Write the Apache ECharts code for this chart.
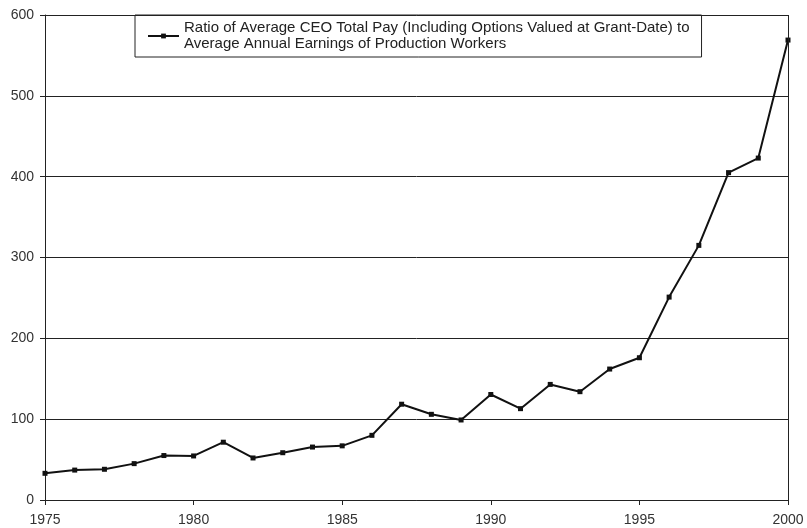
<!DOCTYPE html>
<html><head><meta charset="utf-8">
<script src="https://cdn.jsdelivr.net/npm/echarts@6/dist/echarts.min.js"></script>
<style>html,body{margin:0;padding:0;background:#fff}#c{width:807px;height:528px}</style>
</head><body><div id="c"></div>
<script>
const years = [1975,1976,1977,1978,1979,1980,1981,1982,1983,1984,1985,1986,1987,1988,1989,1990,1991,1992,1993,1994,1995,1996,1997,1998,1999,2000];
const ratio = [33,37,38,45,55,54.5,71.5,52,58.5,65.5,67,80,118.5,106,99,130.5,113,143,134,162,176,251,315,405,423,569];
const seriesName = 'Ratio of Average CEO Total Pay (Including Options Valued at Grant-Date) to\nAverage Annual Earnings of Production Workers';
const yTicks = [0,100,200,300,400,500,600];
const xTicks = [1975,1980,1985,1990,1995,2000];

const chart = echarts.init(document.getElementById('c'), null, {renderer:'canvas'});
chart.setOption({
  backgroundColor:'#fff',
  animation:false,
  grid:{left:45,top:15,right:19,bottom:28,containLabel:false},
  legend:{
    show:true,left:135,top:15,orient:'vertical',
    padding:[5,12,5,12],itemGap:0,
    borderColor:'#222',borderWidth:1,
    itemWidth:31,itemHeight:6,
    textStyle:{fontFamily:'Liberation Sans, Arial',fontSize:15,color:'#222',lineHeight:16},
    data:[seriesName]
  },
  xAxis:{
    type:'value',min:1975,max:2000,interval:5,
    axisLine:{show:true,lineStyle:{color:'#222',width:1}},
    axisTick:{show:true,length:5,lineStyle:{color:'#222'}},
    splitLine:{show:false},
    axisLabel:{color:'#333',fontFamily:'Liberation Sans, Arial',fontSize:14,margin:13,formatter:v=>String(v)}
  },
  yAxis:{
    type:'value',min:0,max:600,interval:100,
    axisLine:{show:true,lineStyle:{color:'#222',width:1}},
    axisTick:{show:true,length:5,lineStyle:{color:'#222'}},
    splitLine:{show:true,lineStyle:{color:'#222',width:1}},
    axisLabel:{color:'#333',fontFamily:'Liberation Sans, Arial',fontSize:14,margin:11}
  },
  series:[
    {
      name:seriesName,type:'line',
      data:years.map((y,i)=>[y,ratio[i]]),
      symbol:'rect',symbolSize:5,showSymbol:true,
      lineStyle:{color:'#111',width:2},
      itemStyle:{color:'#111'},
      markLine:{silent:true,symbol:'none',label:{show:false},lineStyle:{color:'#222',width:1,type:'solid'},data:[{xAxis:2000}]}
    }
  ]
});
</script></body></html>
